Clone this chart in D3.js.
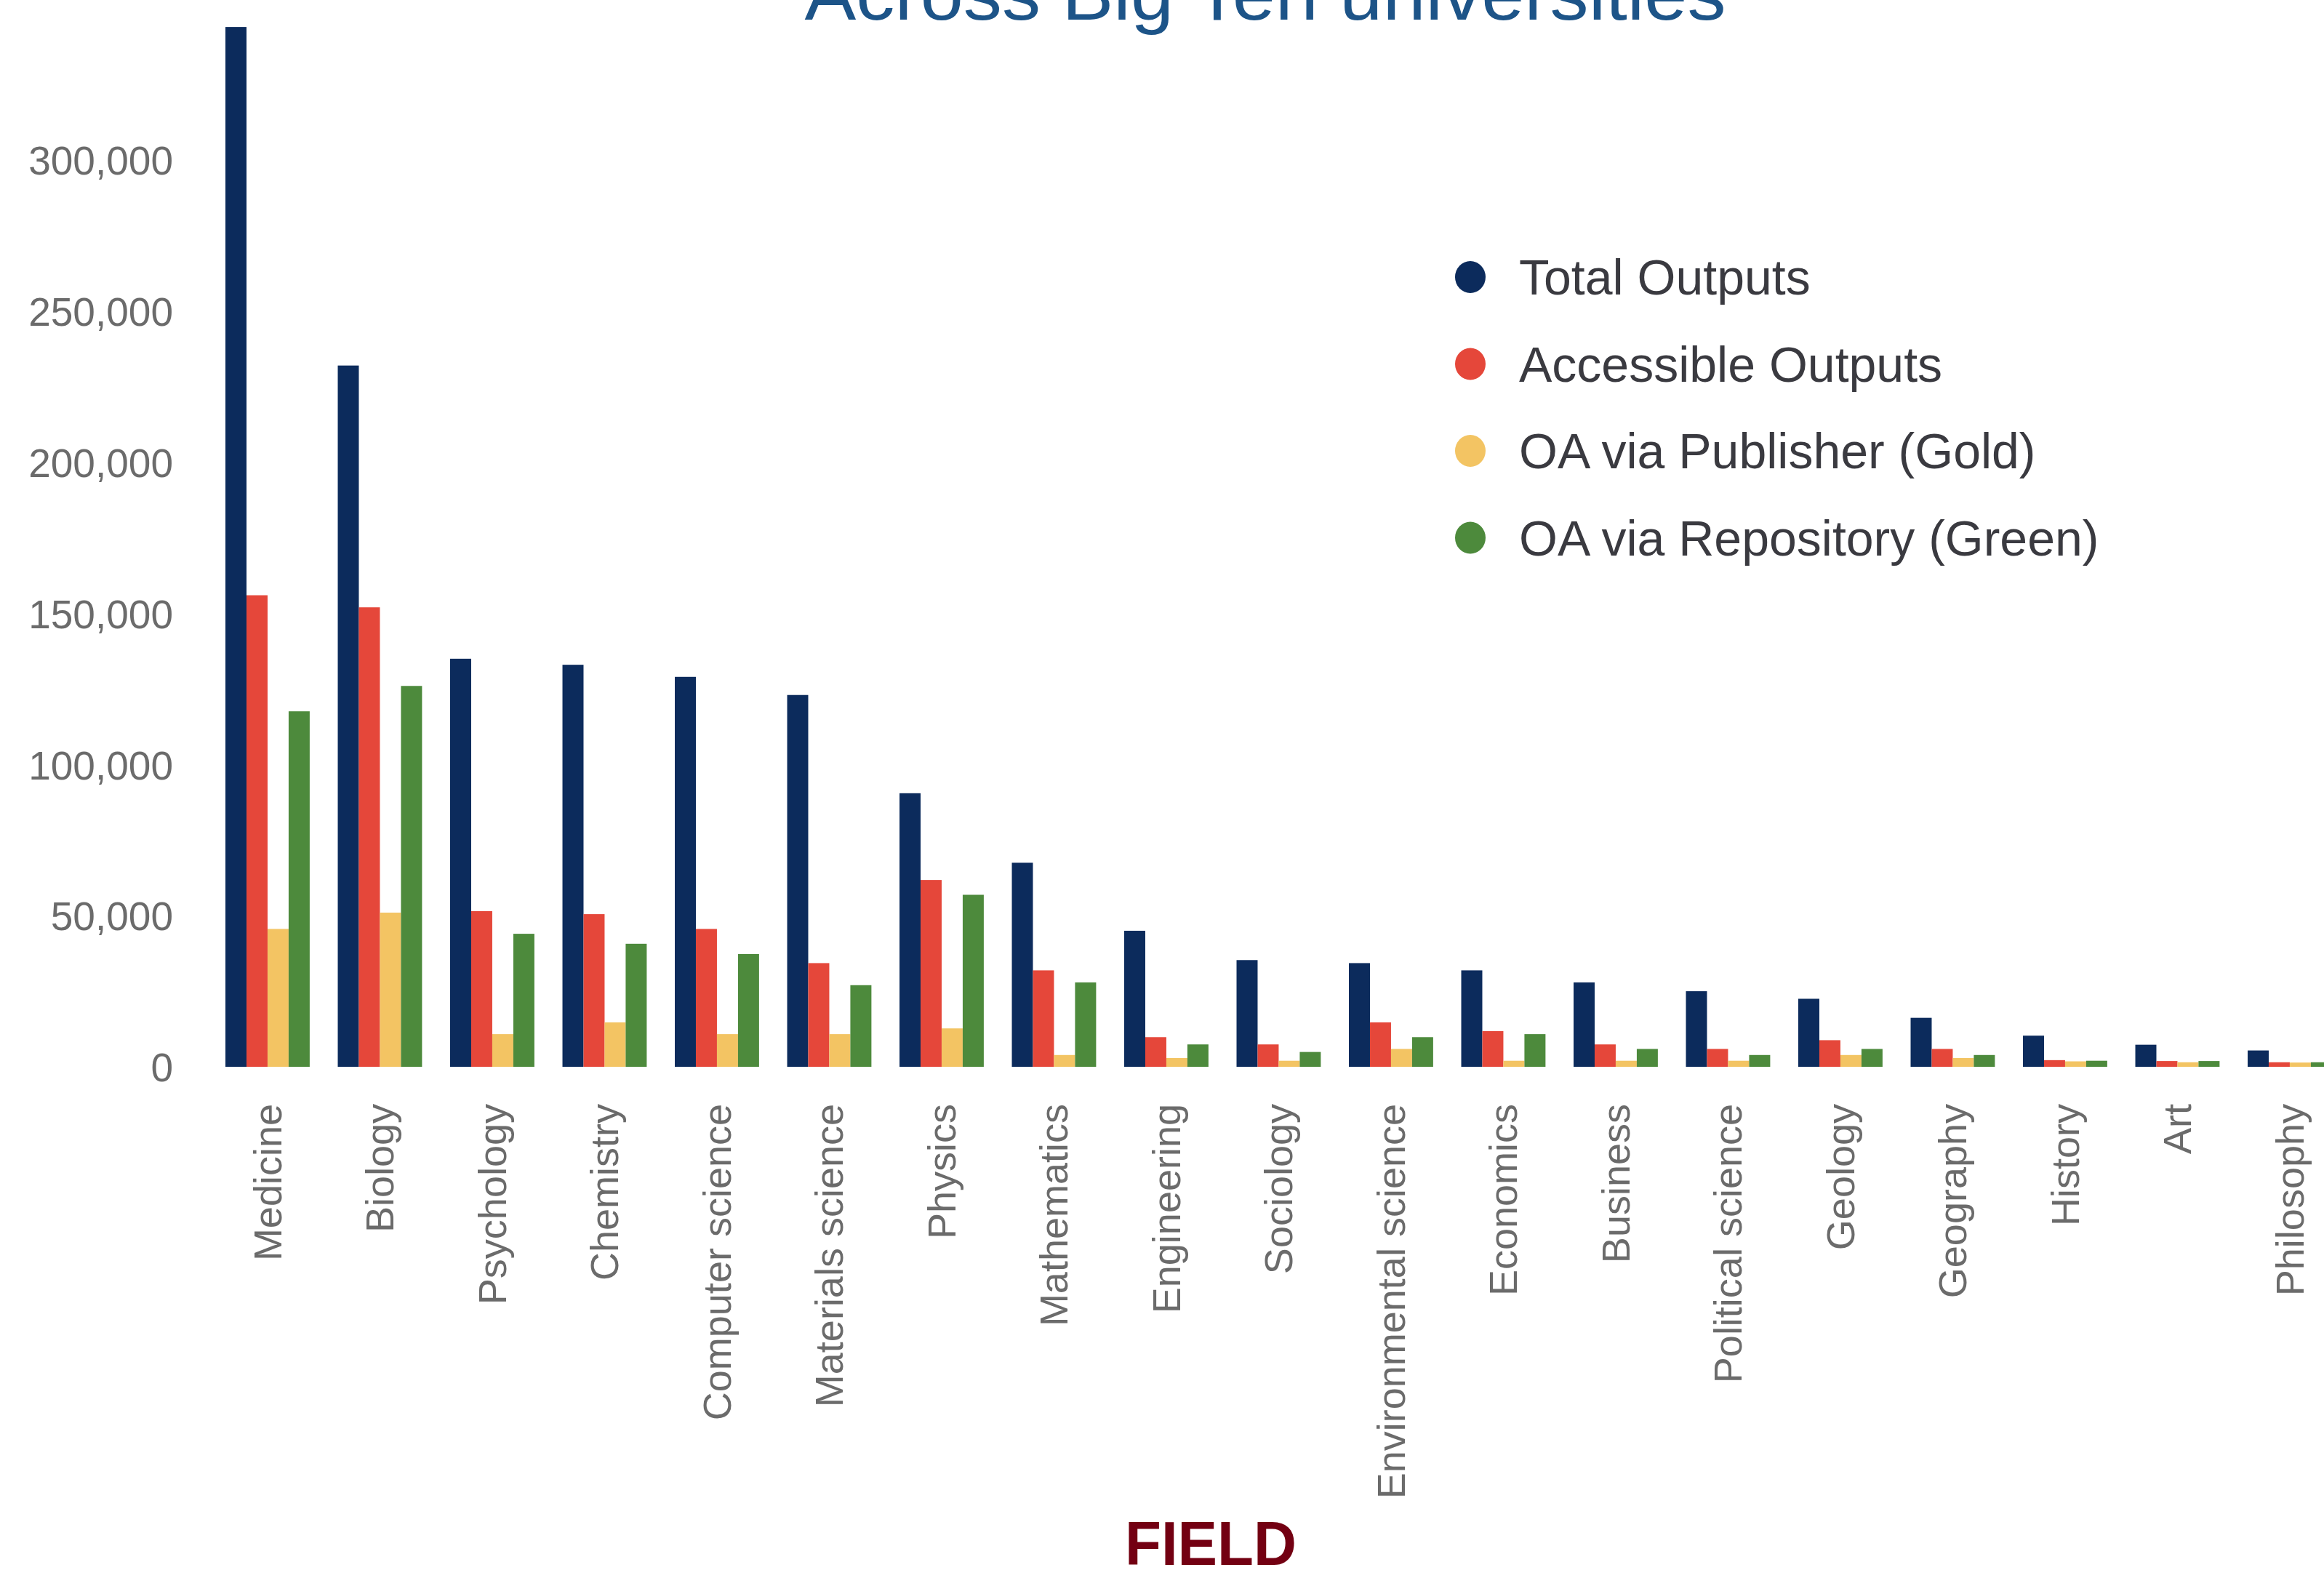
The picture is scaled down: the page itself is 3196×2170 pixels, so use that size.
<!DOCTYPE html>
<html>
<head>
<meta charset="utf-8">
<script src="https://cdn.jsdelivr.net/npm/d3@7"></script>
<style>
  body { margin: 0; background: #fff; }
  svg { display: block; font-family: "Liberation Sans", Arial, sans-serif; }
  .chart-yaxis text { font-size: 55px; fill: #6b6b6b; }
  .chart-xaxis text { font-size: 54px; fill: #6b6b6b; }
</style>
</head>
<body>
<div id="chart"></div>
<script>
const width = 3196;
const height = 2170;
const margin = {top: 220, right: 0, bottom: 703, left: 238};

const fields = ["Medicine", "Biology", "Psychology", "Chemistry", "Computer science", "Materials science",
  "Physics", "Mathematics", "Engineering", "Sociology", "Environmental science", "Economics", "Business",
  "Political science", "Geology", "Geography", "History", "Art", "Philosophy"];
const totalOutputs = [344000, 232000, 135000, 133000, 129000, 123000, 90500, 67500, 45000, 35300,
  34300, 31900, 27900, 25000, 22500, 16200, 10300, 7300, 5400];
const accessibleOutputs = [156000, 152000, 51500, 50500, 45600, 34300, 61800, 31900, 9800, 7400,
  14700, 11800, 7400, 5900, 8800, 5900, 2200, 1900, 1500];
const goldOA = [45600, 51000, 10800, 14700, 10800, 10800, 12700, 3900, 2900, 2000,
  5900, 2000, 2000, 2000, 3900, 2900, 1800, 1500, 1400];
const greenOA = [117600, 126000, 44000, 40700, 37300, 27000, 56900, 27900, 7400, 4900,
  9800, 10800, 5900, 3900, 5900, 3900, 2000, 1900, 1500];
const seriesNames = ["Total Outputs", "Accessible Outputs", "OA via Publisher (Gold)", "OA via Repository (Green)"];
const yTicks = [0, 50000, 100000, 150000, 200000, 250000, 300000];
const colors = ["#0c2b5c", "#e5473a", "#f3c463", "#4d8a3c"];

const formatComma = d3.format(",");

const baseline = 1467;
const y0Top = 220;

const y = d3.scaleLinear()
  .domain([0, 300000])
  .range([baseline, y0Top]);

// bands run past the right edge, philosophy gets cut like in the screenshot
const x0 = d3.scaleBand()
  .domain(fields)
  .range([290.7, 290.7 + fields.length * 154.5])
  .paddingInner(0.25)
  .paddingOuter(0.125);

const x1 = d3.scaleBand()
  .domain(seriesNames)
  .range([0, x0.bandwidth()]);

const color = d3.scaleOrdinal()
  .domain(seriesNames)
  .range(colors);

const rows = fields.map((f, i) => ({
  field: f,
  values: [totalOutputs[i], accessibleOutputs[i], goldOA[i], greenOA[i]].map((v, j) => ({key: seriesNames[j], value: v}))
}));

const svg = d3.select("#chart")
  .append("svg")
  .attr("width", width)
  .attr("height", height)
  .attr("viewBox", [0, 0, width, height]);

// title, mostly cut off by the top edge
svg.append("text")
  .attr("x", 1740)
  .attr("y", 27)
  .attr("text-anchor", "middle")
  .attr("font-size", 100)
  .attr("textLength", 1267)
  .attr("lengthAdjust", "spacingAndGlyphs")
  .attr("fill", "#1d5488")
  .text("Across Big Ten universities");

svg.append("g")
  .selectAll("g")
  .data(rows)
  .join("g")
  .attr("transform", d => `translate(${x0(d.field)},0)`)
  .selectAll("rect")
  .data(d => d.values)
  .join("rect")
  .attr("x", d => x1(d.key))
  .attr("width", x1.bandwidth())
  .attr("y", d => y(d.value))
  .attr("height", d => baseline - y(d.value))
  .attr("fill", d => color(d.key));

const yAxis = g => {
  g.attr("transform", `translate(${margin.left},0)`)
    .attr("class", "chart-yaxis")
    .call(d3.axisLeft(y).tickValues(yTicks).tickSize(0).tickPadding(0).tickFormat(formatComma));
  g.select(".domain").remove();
  g.selectAll("text").attr("dy", "0.36em");
};

const xAxis = g => {
  g.attr("transform", `translate(0,${baseline})`)
    .attr("class", "chart-xaxis")
    .call(d3.axisBottom(x0).tickSize(0));
  g.select(".domain").remove();
  g.selectAll("text")
    .attr("transform", "rotate(-90)")
    .attr("x", -51)
    .attr("y", 0)
    .attr("dy", "0.35em")
    .style("text-anchor", "end");
};

svg.append("g").call(yAxis);
svg.append("g").call(xAxis);

// legend
const legend = svg.append("g")
  .selectAll("g")
  .data(seriesNames)
  .join("g")
  .attr("transform", (d, i) => `translate(2022,${381 + i * 119.5})`);

legend.append("ellipse")
  .attr("rx", 21)
  .attr("ry", 22)
  .attr("fill", d => color(d));

legend.append("text")
  .attr("x", 67)
  .attr("dy", "0.36em")
  .attr("font-size", 68)
  .attr("fill", "#3a3a40")
  .text(d => d);

svg.append("text")
  .attr("x", 1665)
  .attr("y", 2152)
  .attr("text-anchor", "middle")
  .attr("font-size", 86)
  .attr("font-weight", "bold")
  .attr("textLength", 236)
  .attr("lengthAdjust", "spacingAndGlyphs")
  .attr("fill", "#730012")
  .text("FIELD");
</script>
</body>
</html>
